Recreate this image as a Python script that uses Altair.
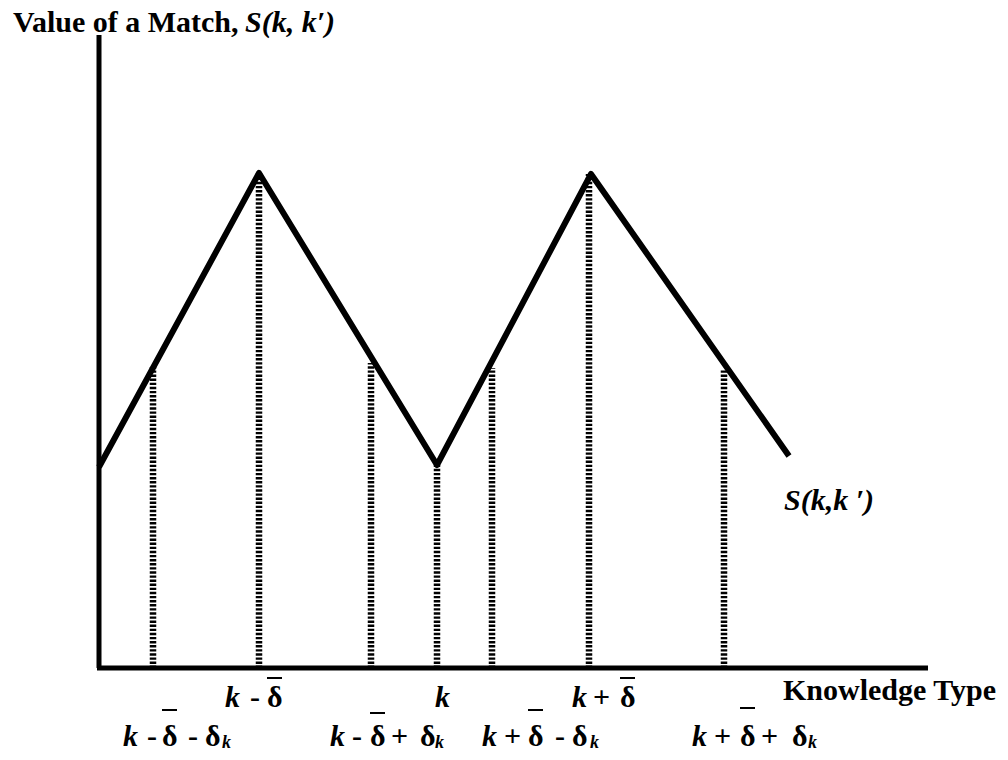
import altair as alt
import pandas as pd

# curve vertices (x in knowledge-type units, y in value units)
curve_x = [0, 160, 338, 492, 690]
curve_y = [201, 495, 203, 494, 212]

# dotted guide lines
guide_x = [54, 160, 272, 338, 393, 490, 625]
guide_top = [301, 495, 305, 203, 300, 494, 298]

# tick-label pieces: italic k
k_x = [126, 336, 473, 24, 231, 383, 593]
k_y = [-39, -39, -39, -78, -78, -78, -78]
# operators
op_text = ["-", "+", "-", "-", "-", "+", "+", "-", "+", "+"]
op_x = [151, 494, 48, 89, 253, 292, 405, 456, 615, 662]
op_y = [-39, -39, -78, -78, -78, -78, -78, -78, -78, -78]
# deltas
d_x = [168, 521, 63, 106, 271, 321, 429, 473, 641, 693]
d_y = [-39, -39, -78, -78, -78, -78, -78, -78, -78, -78]
# overbars on delta
bar_x = [168, 521, 63, 271, 429, 641]
bar_x2 = [183, 536, 78, 286, 444, 656]
bar_y = [-10, -10, -42, -45, -42, -40]
# subscript k
sub_x = [123, 336, 491, 709]
sub_y = [-80, -80, -80, -80]

# other texts
plain_text = ["Value of a Match,", "Knowledge Type"]
plain_x = [-86, 684]
plain_y = [636, -32]
ital_text = ["S(k, k\u2032)", "S(k,k \u2032)"]
ital_x = [146, 685]
ital_y = [636, 158]

FONT = "Times New Roman, Liberation Serif, serif"
FS = 30
X = alt.Scale(domain=[0, 830], nice=False, zero=False)
Y = alt.Scale(domain=[0, 633], nice=False, zero=False)

enc = dict(x=alt.X("x:Q", scale=X, axis=None), y=alt.Y("y:Q", scale=Y, axis=None))

curve = pd.DataFrame({"x": curve_x, "y": curve_y})
guides = pd.DataFrame({"x": guide_x, "y": [0] * len(guide_x), "y2": guide_top})
axes = pd.DataFrame({"x": [0, -2], "x2": [0, 829], "y": [0, 0], "y2": [633, 0]})
bars = pd.DataFrame({"x": bar_x, "x2": bar_x2, "y": bar_y})

axis_rules = alt.Chart(axes).mark_rule(color="black", strokeWidth=5).encode(
    x=alt.X("x:Q", scale=X, axis=None), x2="x2:Q",
    y=alt.Y("y:Q", scale=Y, axis=None), y2="y2:Q")

guide_rules = alt.Chart(guides).mark_rule(color="black", strokeWidth=6.5, strokeDash=[2.4, 1.7]).encode(
    x=alt.X("x:Q", scale=X, axis=None),
    y=alt.Y("y:Q", scale=Y, axis=None), y2="y2:Q")

line = alt.Chart(curve).mark_line(color="black", strokeWidth=6, strokeJoin="round").encode(**enc)

bar_rules = alt.Chart(bars).mark_rule(color="black", strokeWidth=2).encode(
    x=alt.X("x:Q", scale=X, axis=None), x2="x2:Q",
    y=alt.Y("y:Q", scale=Y, axis=None))


def txt(x, y, t, style, size=FS):
    df = pd.DataFrame({"x": x, "y": y, "t": t})
    return alt.Chart(df).mark_text(
        font=FONT, fontSize=size, fontWeight="bold", fontStyle=style,
        align="left", baseline="alphabetic", color="black"
    ).encode(text="t:N", **enc)


layers = [
    axis_rules, guide_rules, line, bar_rules,
    txt(k_x, k_y, ["k"] * len(k_x), "italic"),
    txt(op_x, op_y, op_text, "normal"),
    txt(d_x, d_y, ["\u03b4"] * len(d_x), "normal"),
    txt(sub_x, sub_y, ["k"] * len(sub_x), "italic", size=18),
    txt(plain_x, plain_y, plain_text, "normal"),
    txt(ital_x, ital_y, ital_text, "italic"),
]

chart = alt.layer(*layers).properties(
    width=830, height=633,
    autosize=alt.AutoSizeParams(type="none"),
    padding={"left": 91, "top": 27, "right": 71, "bottom": 84},
).configure_view(stroke=None)

chart.save("out.html", embed_options={"renderer": "svg", "actions": False})
